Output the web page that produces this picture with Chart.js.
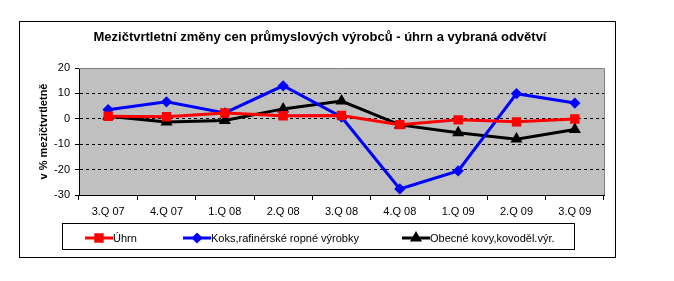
<!DOCTYPE html>
<html>
<head>
<meta charset="utf-8">
<script src="https://cdn.jsdelivr.net/npm/chart.js@4/dist/chart.umd.min.js"></script>
<style>
html, body { margin: 0; padding: 0; background: #fff; }
#wrap { width: 674px; height: 281px; }
</style>
</head>
<body>
<div id="wrap"><canvas id="chart" width="674" height="281"></canvas></div>
<script>
const quarters = ['3.Q 07', '4.Q 07', '1.Q 08', '2.Q 08', '3.Q 08', '4.Q 08', '1.Q 09', '2.Q 09', '3.Q 09'];
const uhrn = [1.0, 0.8, 2.3, 1.2, 1.3, -2.3, -0.4, -1.2, -0.1];
const koks = [3.6, 6.7, 2.3, 13.0, 0.7, -27.6, -20.5, 9.9, 6.2];
const kovy = [1.0, -1.3, -0.7, 3.9, 7.0, -2.4, -5.5, -8.0, -4.2];
const seriesNames = ['Úhrn', 'Koks,rafinérské ropné výrobky', 'Obecné kovy,kovoděl.výr.'];
const yTicks = [20, 10, 0, -10, -20, -30];

const titleText = 'Mezičtvrtletní změny cen průmyslových výrobců - úhrn a vybraná odvětví';
const fontFamily = '"Liberation Sans", Arial, sans-serif';

// pozadí grafu, rámečky, nadpis a legenda
const framePlugin = {
    id: 'frame',
    beforeDraw(chart) {
        const a = chart.chartArea;
        const ctx = chart.ctx;
        ctx.save();
        ctx.fillStyle = '#C0C0C0';
        ctx.fillRect(a.left, a.top, a.right - a.left, a.bottom - a.top);
        ctx.restore();
    },
    beforeDatasetsDraw(chart) {
        const a = chart.chartArea;
        const ctx = chart.ctx;
        ctx.save();
        ctx.strokeStyle = '#808080';
        ctx.lineWidth = 1;
        ctx.beginPath();
        ctx.moveTo(a.left, a.top + 0.5);
        ctx.lineTo(a.right + 0.5, a.top + 0.5);
        ctx.lineTo(a.right + 0.5, a.bottom);
        ctx.stroke();
        ctx.restore();
    },
    afterDraw(chart) {
        const ctx = chart.ctx;
        ctx.save();
        ctx.strokeStyle = '#000';
        ctx.lineWidth = 1;
        ctx.strokeRect(19.5, 21.5, 596, 236);
        ctx.strokeRect(62.5, 223.5, 512, 26);

        ctx.fillStyle = '#000';
        ctx.font = 'bold 13px ' + fontFamily;
        ctx.textAlign = 'center';
        ctx.textBaseline = 'middle';
        ctx.fillText(titleText, 320, 37);

        const items = [
            { x: 85, ds: chart.data.datasets[0] },
            { x: 183, ds: chart.data.datasets[1] },
            { x: 402, ds: chart.data.datasets[2] }
        ];
        const y = 238;
        items.forEach(it => {
            ctx.strokeStyle = it.ds.borderColor;
            ctx.lineWidth = 3;
            ctx.beginPath();
            ctx.moveTo(it.x, y);
            ctx.lineTo(it.x + 28, y);
            ctx.stroke();
            ctx.fillStyle = it.ds.borderColor;
            Chart.helpers.drawPoint(ctx, {
                pointStyle: it.ds.pointStyle,
                radius: it.ds.pointRadius,
                borderWidth: 1,
                rotation: 0
            }, it.x + 14, y);
            ctx.fillStyle = '#000';
            ctx.font = '11px ' + fontFamily;
            ctx.textAlign = 'left';
            ctx.fillText(it.ds.label, it.x + 28, y + 1);
        });
        ctx.restore();
    }
};

function serie(label, data, color, style, radius) {
    return {
        label: label,
        data: data,
        borderColor: color,
        backgroundColor: color,
        pointBackgroundColor: color,
        pointBorderColor: color,
        borderWidth: 3,
        pointStyle: style,
        pointRadius: radius,
        pointHoverRadius: radius,
        tension: 0
    };
}

new Chart(document.getElementById('chart'), {
    type: 'line',
    data: {
        labels: quarters,
        datasets: [
            serie(seriesNames[0], uhrn, '#FF0000', 'rect', 4.5),
            serie(seriesNames[1], koks, '#0000FF', 'rectRot', 3.5),
            serie(seriesNames[2], kovy, '#000000', 'triangle', 4)
        ]
    },
    options: {
        responsive: false,
        animation: false,
        devicePixelRatio: 1,
        layout: { padding: { left: 19, top: 68, right: 70, bottom: 58 } },
        plugins: {
            legend: { display: false },
            title: { display: false },
            tooltip: { enabled: false }
        },
        scales: {
            x: {
                offset: true,
                afterFit(scale) { scale.height = 28; },
                grid: {
                    offset: true,
                    drawOnChartArea: false,
                    tickLength: 5,
                    tickColor: '#000'
                },
                border: { color: '#000', width: 1 },
                ticks: {
                    color: '#000',
                    padding: 5,
                    maxRotation: 0,
                    font: { family: fontFamily, size: 11 }
                }
            },
            y: {
                min: Math.min(...yTicks),
                max: Math.max(...yTicks),
                afterFit(scale) { scale.width = 60; },
                afterBuildTicks(scale) { scale.ticks = yTicks.map(v => ({ value: v })); },
                grid: {
                    color: ctx => (ctx.tick && (ctx.tick.value === 20 || ctx.tick.value === -30)) ? 'rgba(0,0,0,0)' : '#000',
                    tickColor: '#000',
                    tickLength: 4,
                    tickBorderDash: []
                },
                border: { color: '#000', width: 1, dash: [3, 3] },
                ticks: {
                    color: '#000',
                    padding: 5,
                    font: { family: fontFamily, size: 11 }
                },
                title: {
                    display: true,
                    text: 'v % mezičtvrtletně',
                    color: '#000',
                    padding: { top: 18, bottom: 0 },
                    font: { family: fontFamily, size: 11, weight: 'bold' }
                }
            }
        }
    },
    plugins: [framePlugin]
});
</script>
</body>
</html>
